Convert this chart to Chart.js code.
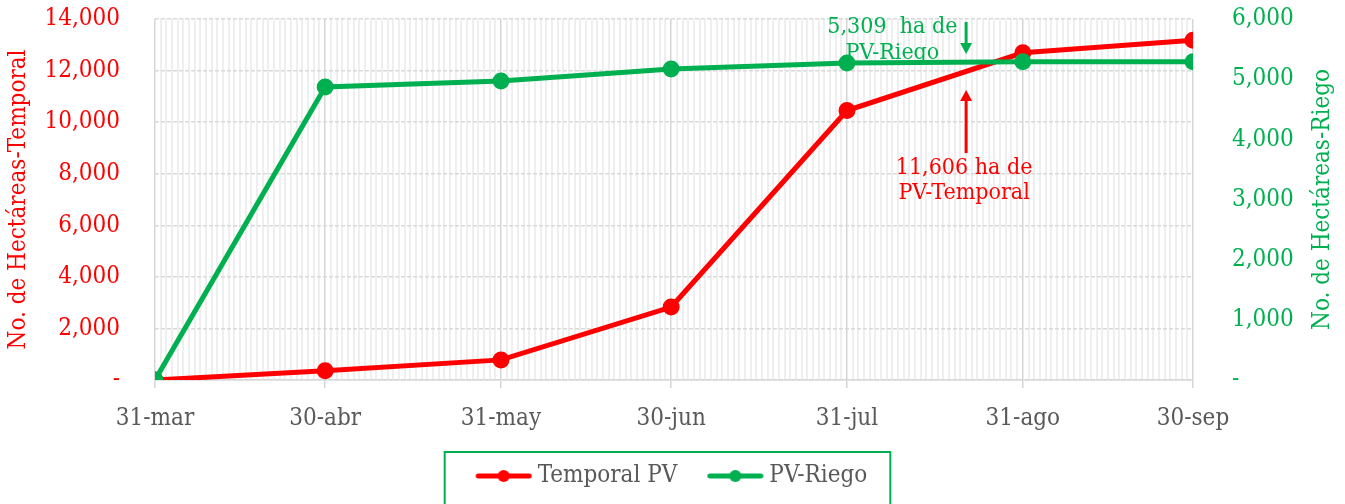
<!DOCTYPE html>
<html>
<head>
    <title>Hectáreas PV</title>
    <script src="https://cdn.jsdelivr.net/npm/chart.js@4.4.0/dist/chart.umd.min.js"></script>
    <style>
        body { margin: 0; background: #fff; }
        .chart-box { width: 1345px; height: 504px; position: relative; }
    </style>
</head>
<body>
    <div class="chart-box">
        <canvas id="pvChart"></canvas>
    </div>

    <script>
        // fechas de corte (dias desde 31-mar) y etiquetas
        const xLabels = ['31-mar', '30-abr', '31-may', '30-jun', '31-jul', '31-ago', '30-sep'];
        const xDays = [0, 30, 61, 91, 122, 153, 183];
        const temporalPV = [0, 360, 780, 2830, 10450, 12690, 13180];
        const riegoPV = [0, 4870, 4970, 5170, 5270, 5290, 5290];
        const totalDays = 183;

        const RED = '#ff0000';
        const GREEN = '#00b050';
        const GREY = '#595959';
        const FONT = '"DejaVu Serif Condensed", "DejaVu Serif", serif';
        const FS = 24;
        const NOTE_FS = 23;

        const fmt = v => v === 0 ? '-' : v.toLocaleString('en-US');

        // line+dot marker for the legend (left part kept empty as spacing)
        function legendMarker(color) {
            const c = document.createElement('canvas');
            c.width = 88; c.height = 14;
            const g = c.getContext('2d');
            g.strokeStyle = color; g.lineWidth = 5; g.lineCap = 'round';
            g.beginPath(); g.moveTo(32.5, 7); g.lineTo(83.5, 7); g.stroke();
            g.fillStyle = color;
            g.beginPath(); g.arc(58, 7, 6, 0, Math.PI * 2); g.fill();
            return c;
        }
        const markers = [legendMarker(RED), legendMarker(GREEN)];

        function arrow(ctx, x, y1, y2, color) {
            const dir = y2 > y1 ? 1 : -1;
            ctx.strokeStyle = color; ctx.fillStyle = color; ctx.lineWidth = 3;
            ctx.beginPath(); ctx.moveTo(x, y1); ctx.lineTo(x, y2 - dir * 8); ctx.stroke();
            ctx.beginPath();
            ctx.moveTo(x, y2); ctx.lineTo(x - 6, y2 - dir * 11); ctx.lineTo(x + 6, y2 - dir * 11);
            ctx.closePath(); ctx.fill();
        }

        // anotaciones (drawn under the lines) + right axis title read bottom-up
        const notes = {
            id: 'notes',
            beforeDatasetsDraw(chart) {
                const ctx = chart.ctx;
                const x = chart.scales.x, yl = chart.scales.y, yr = chart.scales.y1;
                const ax = x.getPixelForValue(143);
                ctx.save();
                ctx.font = NOTE_FS + 'px ' + FONT;
                ctx.textAlign = 'center';
                ctx.textBaseline = 'middle';
                // riego
                arrow(ctx, ax, yr.getPixelForValue(5950), yr.getPixelForValue(5420), GREEN);
                ctx.fillStyle = GREEN;
                const gx = x.getPixelForValue(130);
                ctx.fillText('5,309  ha de', gx, yr.getPixelForValue(5860));
                ctx.fillText('PV-Riego', gx, yr.getPixelForValue(5430));
                // temporal
                arrow(ctx, ax, yl.getPixelForValue(8800), yl.getPixelForValue(11250), RED);
                ctx.fillStyle = RED;
                ctx.fillText('11,606 ha de', ax - 2, yl.getPixelForValue(8220));
                ctx.fillText('PV-Temporal', ax - 2, yl.getPixelForValue(7250));
                // titulo eje derecho
                ctx.font = FS + 'px ' + FONT;
                ctx.fillStyle = GREEN;
                ctx.translate(yr.right + 2, (chart.chartArea.top + chart.chartArea.bottom) / 2);
                ctx.rotate(-Math.PI / 2);
                ctx.fillText('No. de Hectáreas-Riego', 0, 0);
                ctx.restore();
            }
        };

        // green frame around the legend
        const legendFrame = {
            id: 'legendFrame',
            afterDraw(chart) {
                const lg = chart.legend;
                const boxes = lg.legendHitBoxes;
                if (!boxes || !boxes.length) return;
                const l = Math.min(...boxes.map(b => b.left)) - 9;
                const r = Math.max(...boxes.map(b => b.left + b.width)) + 23;
                const ctx = chart.ctx;
                ctx.save();
                ctx.strokeStyle = GREEN; ctx.lineWidth = 2;
                ctx.strokeRect(l, lg.top - 4, r - l, lg.height + 30);
                ctx.restore();
            }
        };

        const pts = vals => vals.map((v, i) => ({ x: xDays[i], y: v }));
        const isMonth = c => xDays.includes(c.tick.value);

        new Chart(document.getElementById('pvChart'), {
            type: 'line',
            data: {
                datasets: [{
                    label: 'Temporal PV',
                    data: pts(temporalPV),
                    yAxisID: 'y',
                    borderColor: RED,
                    backgroundColor: RED,
                    borderWidth: 5,
                    pointRadius: 6,
                    pointHoverRadius: 6,
                    order: 2
                }, {
                    label: 'PV-Riego',
                    data: pts(riegoPV),
                    yAxisID: 'y1',
                    borderColor: GREEN,
                    backgroundColor: GREEN,
                    borderWidth: 5,
                    pointRadius: 6,
                    pointHoverRadius: 6,
                    order: 1
                }]
            },
            options: {
                responsive: true,
                maintainAspectRatio: false,
                animation: false,
                layout: { padding: { top: 19, left: 0, right: 24, bottom: 6 } },
                plugins: {
                    tooltip: { enabled: false },
                    legend: {
                        position: 'bottom',
                        labels: {
                            usePointStyle: true,
                            pointStyleWidth: 72,
                            padding: 8,
                            color: GREY,
                            font: { family: FONT, size: FS },
                            sort: (a, b) => a.datasetIndex - b.datasetIndex,
                            generateLabels(chart) {
                                const items = Chart.defaults.plugins.legend.labels.generateLabels(chart);
                                items.forEach(it => { it.pointStyle = markers[it.datasetIndex]; });
                                return items;
                            }
                        }
                    }
                },
                scales: {
                    x: {
                        type: 'linear',
                        min: 0,
                        max: totalDays,
                        afterBuildTicks(scale) {
                            const t = [];
                            for (let d = 0; d <= totalDays; d++) t.push({ value: d });
                            scale.ticks = t;
                        },
                        afterFit(scale) { scale.height = 76; },
                        ticks: {
                            autoSkip: false,
                            maxRotation: 0,
                            padding: 16,
                            color: GREY,
                            font: { family: FONT, size: FS },
                            callback: v => {
                                const i = xDays.indexOf(v);
                                return i >= 0 ? xLabels[i] : '';
                            }
                        },
                        grid: {
                            color: c => isMonth(c) ? '#d6d6d6' : '#efefef',
                            lineWidth: c => isMonth(c) ? 1.5 : 2,
                            tickColor: c => isMonth(c) ? '#d6d6d6' : 'rgba(0,0,0,0)',
                            tickLength: 8
                        },
                        border: { color: '#d6d6d6', width: 1.5 }
                    },
                    y: {
                        position: 'left',
                        min: 0,
                        max: 14000,
                        afterFit(scale) { scale.width = 155; },
                        ticks: {
                            stepSize: 2000,
                            padding: 4,
                            color: RED,
                            font: { family: FONT, size: FS },
                            callback: v => fmt(v)
                        },
                        grid: { color: '#d9d9d9', lineWidth: 1.5, tickLength: 31, tickColor: 'rgba(0,0,0,0)' },
                        border: { display: false, dash: [4, 2] },
                        title: {
                            display: true,
                            text: 'No. de Hectáreas-Temporal',
                            color: RED,
                            font: { family: FONT, size: FS },
                            padding: { top: 4, bottom: 4 }
                        }
                    },
                    y1: {
                        position: 'right',
                        min: 0,
                        max: 6000,
                        afterFit(scale) { scale.width = 128; },
                        ticks: {
                            stepSize: 1000,
                            padding: 4,
                            color: GREEN,
                            font: { family: FONT, size: FS },
                            callback: v => fmt(v)
                        },
                        grid: { drawOnChartArea: false, tickLength: 35, tickColor: 'rgba(0,0,0,0)' },
                        border: { display: false }
                    }
                }
            },
            plugins: [notes, legendFrame]
        });
    </script>
</body>
</html>
